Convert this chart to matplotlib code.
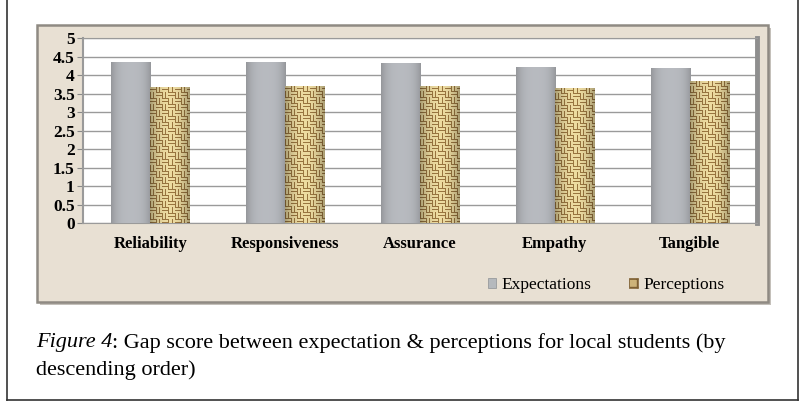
import matplotlib.pyplot as plt
import matplotlib.patches as mpatches
import numpy as np

# values
dimensions = ["Reliability", "Responsiveness", "Assurance", "Empathy", "Tangible"]
expectations = [4.36, 4.37, 4.33, 4.24, 4.19]
perceptions = [3.68, 3.72, 3.72, 3.65, 3.85]
y_ticks = [0, 0.5, 1, 1.5, 2, 2.5, 3, 3.5, 4, 4.5, 5]
y_tick_labels = ["0", "0.5", "1", "1.5", "2", "2.5", "3", "3.5", "4", "4.5", "5"]

W, H = 805, 407
fig = plt.figure(figsize=(W / 100, H / 100), dpi=100)
fig.patch.set_facecolor("white")

# outer frame (left, right, bottom visible)
fig.add_artist(plt.Line2D([7 / W, 7 / W], [1 - 400 / H, 1], color="#333333", lw=1.2))
fig.add_artist(plt.Line2D([798 / W, 798 / W], [1 - 400 / H, 1], color="#333333", lw=1.2))
fig.add_artist(plt.Line2D([7 / W, 798 / W], [1 - 400 / H, 1 - 400 / H], color="#333333", lw=1.2))

# beige chart panel with a little shadow
px0, px1, py0, py1 = 37, 768, 25, 302
fig.add_artist(mpatches.Rectangle((px0 / W + 0.004, 1 - py1 / H - 0.008), (px1 - px0) / W, (py1 - py0) / H,
                                  transform=fig.transFigure, facecolor="#c4c0ba", edgecolor="none", zorder=0))
fig.add_artist(mpatches.Rectangle((px0 / W, 1 - py1 / H), (px1 - px0) / W, (py1 - py0) / H,
                                  transform=fig.transFigure, facecolor="#e8e0d3", edgecolor="#8f8a83",
                                  lw=1.8, zorder=0))

ax = fig.add_axes([83 / W, 1 - 223.5 / H, 674 / W, 185 / H])
ax.set_facecolor("white")
ax.set_zorder(1)

x = np.arange(len(dimensions)) + 0.5
bw = 0.29
exp_bars = ax.bar(x - bw / 2, expectations, bw, color="#b5b9bd", edgecolor="none",
                  label="Expectations", zorder=3)
per_bars = ax.bar(x + bw / 2, perceptions, bw, color="#cdb379", edgecolor="none",
                  label="Perceptions", zorder=3)

# shading for grey bars: darker edges, lighter middle
t = np.linspace(0, 1, 40)
shade = 1 - 0.18 * (2 * np.abs(t - 0.5)) ** 3
grey = np.array([0.72, 0.73, 0.75])
grey_img = (shade[None, :, None] * grey[None, None, :])
for b in exp_bars:
    im = ax.imshow(grey_img, extent=[b.get_x(), b.get_x() + b.get_width(), 0, b.get_height()],
                   aspect="auto", zorder=3.5, interpolation="bilinear")
    im.set_clip_path(b)

# woven burlap look for perception bars
def weave(h, w):
    i, j = np.indices((h, w))
    blk = ((i // 6) + (j // 6)) % 2
    dark = np.where(blk == 0, i % 3 == 0, j % 3 == 0)
    light = np.array([0.93, 0.86, 0.63])
    brown = np.array([0.60, 0.46, 0.25])
    img = np.where(dark[..., None], brown, light)
    edge = 1 - 0.28 * (2 * np.abs(np.linspace(0, 1, w) - 0.5)) ** 2
    return img * edge[None, :, None]

for b in per_bars:
    hpx = int(b.get_height() * 37)
    im = ax.imshow(weave(hpx, 39), extent=[b.get_x(), b.get_x() + b.get_width(), 0, b.get_height()],
                   aspect="auto", zorder=3.5, interpolation="nearest")
    im.set_clip_path(b)

ax.set_xlim(0, 5)
ax.set_ylim(0, 5)
ax.set_yticks(y_ticks)
ax.set_yticklabels(y_tick_labels, fontfamily="Liberation Serif", fontweight="bold", fontsize=12.5)
ax.set_xticks(x)
ax.set_xticklabels(dimensions, fontfamily="Liberation Serif", fontweight="bold", fontsize=12)
ax.tick_params(axis="x", length=0, pad=9)
ax.tick_params(axis="y", length=4, color="#888888", pad=2)
ax.yaxis.grid(True, color="#9a9a9a", lw=1.0, zorder=0)
ax.spines["top"].set_color("#9a9a9a")
ax.spines["right"].set_color("#8e8e8e")
ax.spines["right"].set_linewidth(3.5)
ax.spines["left"].set_color("#9a9a9a")
ax.spines["left"].set_linewidth(1.5)
ax.spines["bottom"].set_color("#9a9a9a")

handles = [mpatches.Patch(facecolor="#b5b9bd", edgecolor="#8c9094", lw=0.5),
           mpatches.Patch(facecolor="#cdb379", edgecolor="#7d5f33", hatch="++", lw=0.5)]
fig.legend(handles, ["Expectations", "Perceptions"], loc="center", bbox_to_anchor=(606 / W, 1 - 285 / H),
           ncol=2, frameon=False, prop={"family": "Liberation Serif", "size": 12.5},
           handlelength=0.5, handleheight=0.5, handletextpad=0.3, columnspacing=2.2)

caption1 = fig.text(36 / W, 1 - 343 / H, "Figure 4", family="Liberation Serif", style="italic",
                    fontsize=16, va="center")
fig.canvas.draw()
bb = caption1.get_window_extent()
fig.text(bb.x1 / W, 1 - 343 / H, ": Gap score between expectation & perceptions for local students (by",
         family="Liberation Serif", fontsize=16, va="center")
fig.text(36 / W, 1 - 370 / H, "descending order)", family="Liberation Serif", fontsize=16, va="center")

fig.savefig("out.png", dpi=100)
